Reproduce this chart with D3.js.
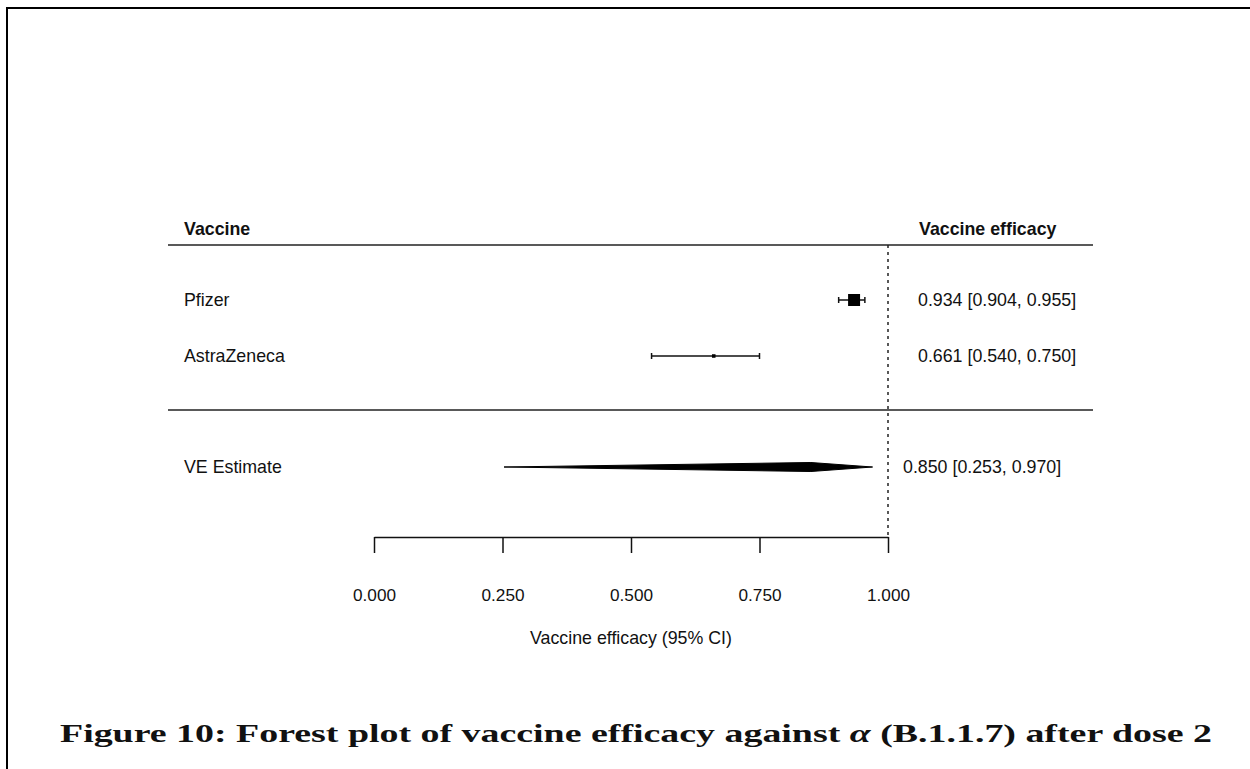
<!DOCTYPE html>
<html>
<head>
<meta charset="utf-8">
<script src="https://cdn.jsdelivr.net/npm/d3@7"></script>
<style>
  body { margin: 0; background: #fff; }
  svg text { font-family: "Liberation Sans", Arial, sans-serif; fill: #111; }
</style>
</head>
<body>
<div id="graph"></div>
<script>
// study rows
var vaccines = ["Pfizer", "AstraZeneca"];
var estimates = [0.934, 0.661];
var lowers = [0.904, 0.540];
var uppers = [0.955, 0.750];
var weights = [0.92, 0.08];

// pooled estimate
var summaryLabel = "VE Estimate";
var summaryEst = 0.850;
var summaryLo = 0.253;
var summaryHi = 0.970;

var tickValues = [0, 0.25, 0.5, 0.75, 1];
var caption = "Figure 10: Forest plot of vaccine efficacy against ";

var W = 1250, H = 769;
var fmt = d3.format(".3f");
var fs = 17.8;

var svg = d3.select("#graph")
    .append("svg")
    .attr("width", W)
    .attr("height", H);

var x = d3.scaleLinear().domain([0, 1]).range([374, 888]);
var rowY = d3.scaleLinear().domain([0, 1]).range([300, 356]);
var boxSize = d3.scaleSqrt().domain([0, 1]).range([0, 12.5]);

var leftX = 184, lineL = 168, lineR = 1093;
var headerY = 229, topRule = 245, midRule = 410, axisY = 537;
var summaryY = rowY(3) - 1;

// page frame
svg.append("path")
    .attr("d", "M7," + H + "V8H" + W)
    .attr("fill", "none")
    .attr("stroke", "#000")
    .attr("stroke-width", 2);

// headers
svg.append("text")
    .attr("x", leftX).attr("y", headerY).attr("dy", "0.35em")
    .attr("font-size", fs).attr("font-weight", "bold")
    .text("Vaccine");
svg.append("text")
    .attr("x", 919).attr("y", headerY).attr("dy", "0.35em")
    .attr("font-size", fs).attr("font-weight", "bold")
    .text("Vaccine efficacy");

// horizontal rules
[topRule, midRule].forEach(function(yy) {
    svg.append("line")
        .attr("x1", lineL).attr("x2", lineR)
        .attr("y1", yy).attr("y2", yy)
        .attr("stroke", "#222").attr("stroke-width", 1.5);
});

// reference line at 1
svg.append("line")
    .attr("x1", x(1)).attr("x2", x(1))
    .attr("y1", topRule).attr("y2", axisY)
    .attr("stroke", "#222").attr("stroke-width", 1.5)
    .attr("stroke-dasharray", "3,4");

var rows = vaccines.map(function(v, i) {
    return {name: v, est: estimates[i], lo: lowers[i], hi: uppers[i], w: weights[i], y: rowY(i)};
});

var g = svg.append("g").selectAll("g")
    .data(rows)
    .enter()
    .append("g");

g.append("text")
    .attr("x", leftX).attr("y", d => d.y).attr("dy", "0.35em")
    .attr("font-size", fs)
    .text(d => d.name);

g.append("line")
    .attr("x1", d => x(d.lo)).attr("x2", d => x(d.hi))
    .attr("y1", d => d.y).attr("y2", d => d.y)
    .attr("stroke", "#111").attr("stroke-width", 1.5);

g.selectAll("line.cap")
    .data(d => [{v: d.lo, y: d.y}, {v: d.hi, y: d.y}])
    .enter()
    .append("line")
    .attr("class", "cap")
    .attr("x1", d => x(d.v)).attr("x2", d => x(d.v))
    .attr("y1", d => d.y - 3).attr("y2", d => d.y + 3)
    .attr("stroke", "#111").attr("stroke-width", 1.5);

g.append("rect")
    .attr("x", d => x(d.est) - boxSize(d.w) / 2)
    .attr("y", d => d.y - boxSize(d.w) / 2)
    .attr("width", d => boxSize(d.w))
    .attr("height", d => boxSize(d.w))
    .attr("fill", "#000");

g.append("text")
    .attr("x", 918).attr("y", d => d.y).attr("dy", "0.35em")
    .attr("font-size", fs)
    .text(d => fmt(d.est) + " [" + fmt(d.lo) + ", " + fmt(d.hi) + "]");

// pooled diamond
svg.append("text")
    .attr("x", leftX).attr("y", summaryY).attr("dy", "0.35em")
    .attr("font-size", fs)
    .text(summaryLabel);

var dh = 4.5;
svg.append("polygon")
    .attr("points", [
        [x(summaryLo), summaryY],
        [x(summaryEst), summaryY - dh],
        [x(summaryHi), summaryY],
        [x(summaryEst), summaryY + dh]
    ].map(p => p.join(",")).join(" "))
    .attr("fill", "#000")
    .attr("stroke", "#000")
    .attr("stroke-width", 1);

svg.append("text")
    .attr("x", 903).attr("y", summaryY).attr("dy", "0.35em")
    .attr("font-size", fs)
    .text(fmt(summaryEst) + " [" + fmt(summaryLo) + ", " + fmt(summaryHi) + "]");

// axis
var axis = svg.append("g")
    .attr("transform", "translate(0," + axisY + ")")
    .call(d3.axisBottom(x)
        .tickValues(tickValues)
        .tickFormat(fmt)
        .tickSize(16)
        .tickSizeOuter(0)
        .tickPadding(36));

axis.select(".domain").attr("stroke", "#111").attr("stroke-width", 1.5);
axis.selectAll(".tick line").attr("stroke", "#111").attr("stroke-width", 1.5);
axis.selectAll(".tick text")
    .attr("font-size", 17.2)
    .attr("font-family", "Liberation Sans, Arial, sans-serif")
    .attr("fill", "#111");

svg.append("text")
    .attr("x", x(0.5)).attr("y", 638).attr("dy", "0.35em")
    .attr("text-anchor", "middle")
    .attr("font-size", fs)
    .text("Vaccine efficacy (95% CI)");

// caption
var cap = svg.append("text")
    .attr("x", 60).attr("y", 742)
    .attr("font-size", 25)
    .attr("font-weight", "bold")
    .style("font-family", "'Liberation Serif', 'DejaVu Serif', serif")
    .attr("textLength", 1152)
    .attr("lengthAdjust", "spacingAndGlyphs");
cap.append("tspan").text(caption);
cap.append("tspan").attr("font-style", "italic").text("α");
cap.append("tspan").text(" (B.1.1.7) after dose 2");
</script>
</body>
</html>
